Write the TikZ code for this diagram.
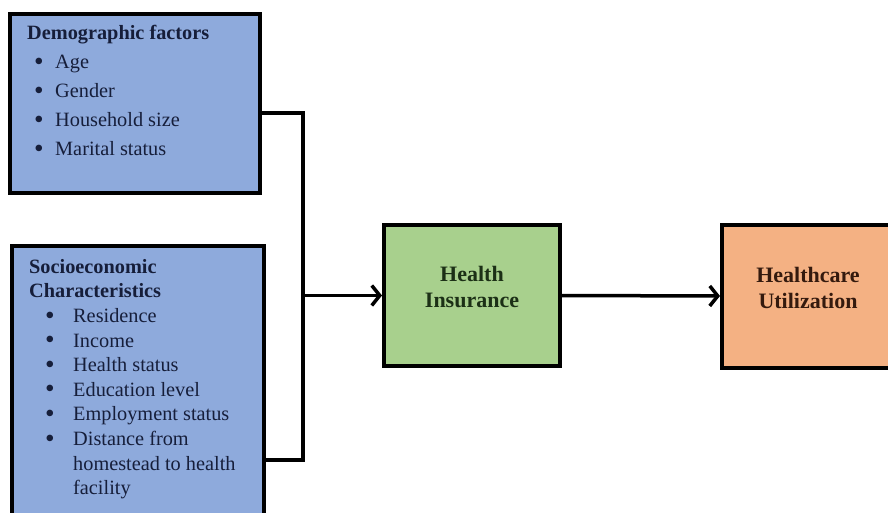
\documentclass[tikz,border=0pt]{standalone}
\usepackage{fontspec}
\usepackage{graphicx}
\setmainfont{Liberation Serif}
\usetikzlibrary{positioning,arrows.meta}

\definecolor{boxblue}{RGB}{142,170,220}
\definecolor{boxgreen}{RGB}{168,208,141}
\definecolor{boxorange}{RGB}{244,177,131}
\definecolor{txtnavy}{RGB}{22,30,58}
\definecolor{txtgreen}{RGB}{28,48,22}
\definecolor{txtbrown}{RGB}{52,26,14}

% bullet line: width of the bullet column, gap before the bullet, item text
\newcommand{\bulitem}[3]{\makebox[#1][l]{\hspace{#2}\smash{\raisebox{-1.7pt}{\scalebox{1.35}{\textbullet}}}}#3}

\tikzset{
  framebox/.style={draw=black, line width=4pt, inner sep=0pt},
  listtext/.style={anchor=north west, inner sep=0pt, align=left, text=txtnavy},
  headtext/.style={inner sep=0pt, align=center, font=\bfseries\fontsize{22}{26}\selectfont},
  link/.style={line width=3.5pt},
  linkarrow/.style={link, -{Straight Barb[length=8pt,width=20pt]}},
}

\begin{document}
\begin{tikzpicture}[x=1pt,y=1pt,yscale=-1]
\useasboundingbox (0,0) rectangle (888,513);

%Shape: Rectangle [demographic]
\node [framebox, fill=boxblue, minimum width=250pt, minimum height=179pt] (demo) at (135,103.5) {};
%Shape: Rectangle [socioeconomic]
\node [framebox, fill=boxblue, minimum width=252pt, minimum height=294pt] (socio) at (138,393) {};
%Shape: Rectangle [insurance]
\node [framebox, fill=boxgreen, minimum width=176pt, minimum height=141pt] (hi) at (472,295.5) {};
%Shape: Rectangle [utilization]
\node [framebox, fill=boxorange, minimum width=172pt, minimum height=143pt] (hu) at (808,296) {};

% Connectors
\coordinate (jn) at (303,295.5);
\draw [link] ([yshift=9.5pt]demo.east) -| (jn) |- ([yshift=67pt]socio.east);
\draw [linkarrow] (jn) -- (hi.west);
\draw [linkarrow] (hi.east) -- (hu.west);

% Text Node
\node [listtext, font=\fontsize{20.3}{29}\selectfont] (demotext) at (27,25) {%
  \textbf{Demographic factors}\\
  \bulitem{28pt}{7pt}{Age}\\
  \bulitem{28pt}{7pt}{Gender}\\
  \bulitem{28pt}{7pt}{Household size}\\
  \bulitem{28pt}{7pt}{Marital status}};
% Text Node
\node [listtext, font=\fontsize{20.3}{24.6}\selectfont] (sociotext) at (29,259) {%
  \textbf{Socioeconomic}\\
  \textbf{Characteristics}\\
  \bulitem{44pt}{16pt}{Residence}\\
  \bulitem{44pt}{16pt}{Income}\\
  \bulitem{44pt}{16pt}{Health status}\\
  \bulitem{44pt}{16pt}{Education level}\\
  \bulitem{44pt}{16pt}{Employment status}\\
  \bulitem{44pt}{16pt}{Distance from}\\
  \hspace*{44pt}homestead to health\\
  \hspace*{44pt}facility};
% Text Node
\node [headtext, text=txtgreen] (hitext) at ([yshift=-8pt]hi.center) {Health\\Insurance};
% Text Node
\node [headtext, text=txtbrown] (hutext) at ([yshift=-8pt]hu.center) {Healthcare\\Utilization};
\end{tikzpicture}
\end{document}
